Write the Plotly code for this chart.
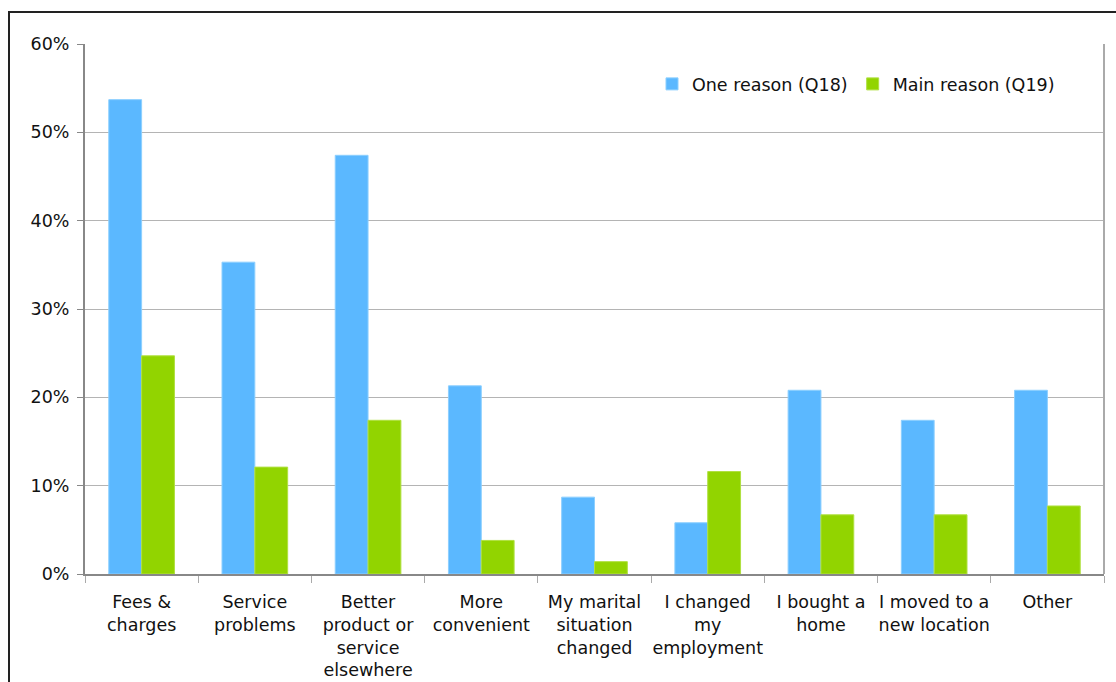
import plotly.graph_objects as go

categories = [
    "Fees &<br>charges",
    "Service<br>problems",
    "Better<br>product or<br>service<br>elsewhere",
    "More<br>convenient",
    "My marital<br>situation<br>changed",
    "I changed<br>my<br>employment",
    "I bought a<br>home",
    "I moved to a<br>new location",
    "Other",
]
one_reason = [53.7, 35.3, 47.4, 21.3, 8.7, 5.8, 20.8, 17.4, 20.8]
main_reason = [24.7, 12.1, 17.4, 3.8, 1.4, 11.6, 6.7, 6.7, 7.7]

BLUE = "#5BB8FF"
GREEN = "#92D400"
FONT = "DejaVu Sans"

fig = go.Figure()
fig.add_trace(go.Bar(x=categories, y=one_reason, name="One reason (Q18)",
                     marker=dict(color=BLUE, line=dict(color="#8ccfff", width=1))))
fig.add_trace(go.Bar(x=categories, y=main_reason, name="Main reason (Q19)",
                     marker=dict(color=GREEN, line=dict(color="#b0e040", width=1))))

W, H = 1116, 682
L, R, T, B = 85, 12, 44, 108
pw, ph = W - L - R, H - T - B

def px(x):
    return (x - L) / pw

def py(y):
    return 1 - (y - T) / ph

fig.update_layout(
    width=W, height=H,
    margin=dict(l=L, r=R, t=T, b=B, pad=0, autoexpand=False),
    paper_bgcolor="white", plot_bgcolor="white",
    font=dict(family=FONT, size=17, color="#111111"),
    barmode="group", bargap=0.42, bargroupgap=0,
    showlegend=True,
    legend=dict(orientation="h", x=px(1060), xanchor="right",
                y=py(84), yanchor="middle", font=dict(size=17.5),
                bgcolor="rgba(0,0,0,0)", traceorder="normal",
                itemwidth=30),
    xaxis=dict(showline=True, linecolor="#888888", linewidth=2,
               ticks="outside", tickson="boundaries", ticklen=7,
               tickcolor="#aaaaaa", tickfont=dict(size=17.5),
               tickangle=0, automargin=False,
               ticklabelstandoff=11,
               showgrid=False, zeroline=False),
    yaxis=dict(range=[0, 60], dtick=10, ticksuffix="%",
               showline=True, linecolor="#888888", linewidth=2,
               ticks="outside", ticklen=6, tickcolor="#888888",
               ticklabelstandoff=4, automargin=False,
               showgrid=True, gridcolor="#b4b4b4", gridwidth=1,
               zeroline=False, tickfont=dict(size=17.5)),
    shapes=[
        dict(type="line", xref="paper", yref="paper", x0=1, x1=1, y0=0, y1=1,
             line=dict(color="#aaaaaa", width=2)),
        dict(type="rect", xref="paper", yref="paper",
             x0=px(9), x1=px(W + 20), y0=py(12), y1=py(H + 20),
             line=dict(color="#222222", width=2)),
    ],
)

fig.write_html("out.html")
